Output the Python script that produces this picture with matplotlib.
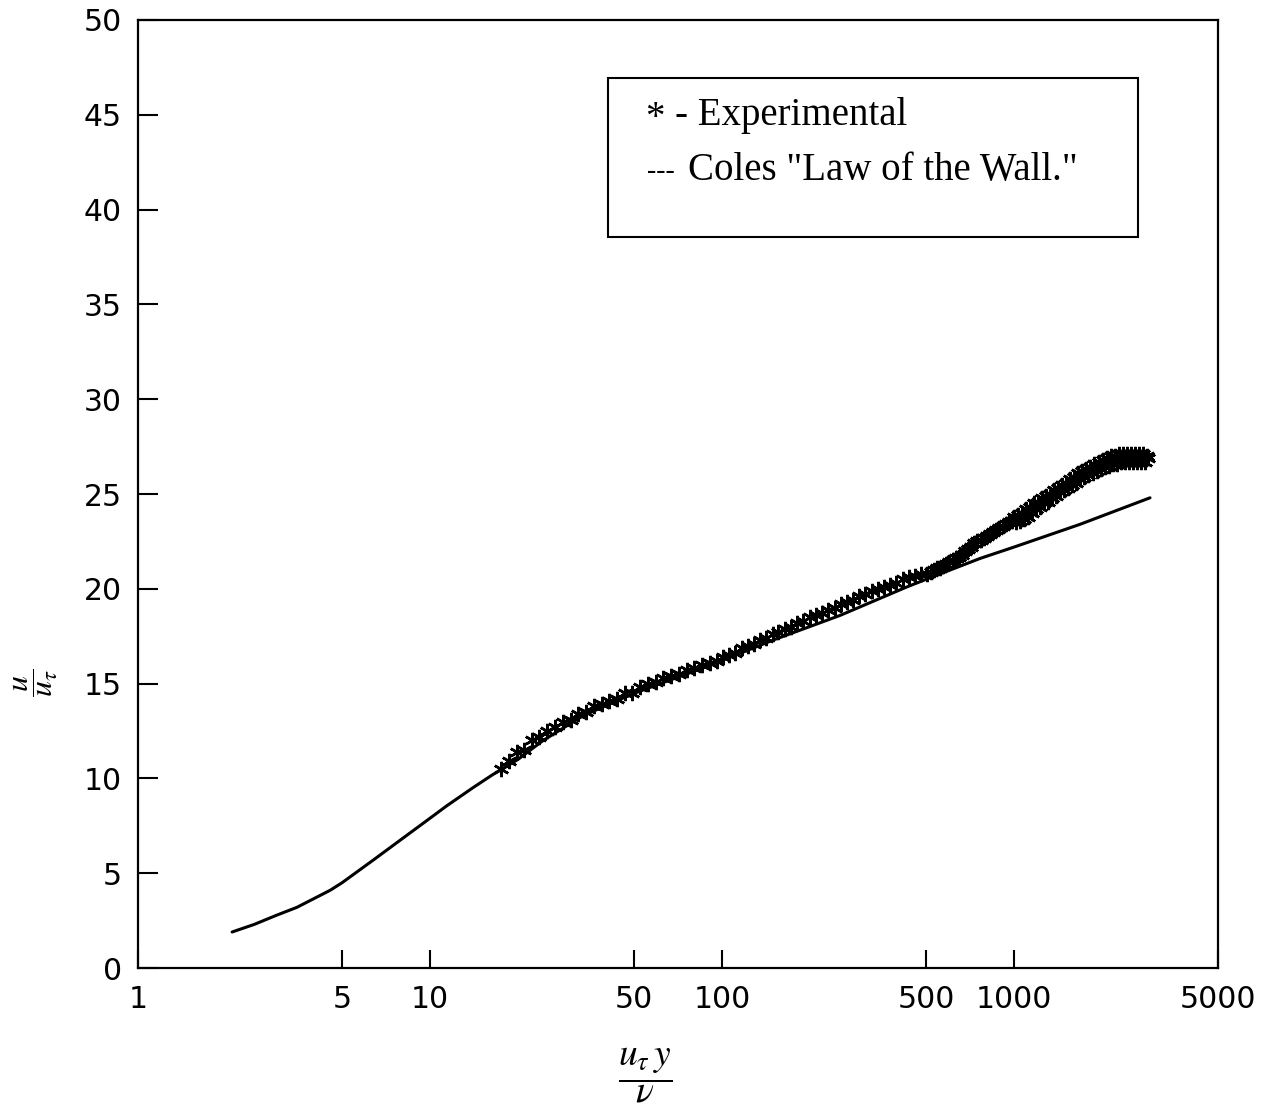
import numpy as np
import matplotlib.pyplot as plt
from matplotlib.patches import Rectangle

plt.rcParams['mathtext.fontset'] = 'stix'

# Coles "law of the wall" curve
wall_x = [2.1, 2.5, 3.0, 3.5, 4.55, 5.0, 6.4, 8.5, 10.0, 11.4, 14.0, 16.4, 20.0,
          24.4, 33.4, 48.4, 56.7, 88.8, 150, 254, 430, 500, 765, 1000, 1683, 2924]
wall_y = [1.9, 2.3, 2.8, 3.2, 4.1, 4.5, 5.7, 7.1, 7.9, 8.55, 9.5, 10.2, 11.0,
          12.0, 13.3, 14.4, 14.8, 15.9, 17.3, 18.6, 20.1, 20.5, 21.6, 22.2, 23.4, 24.8]

# experimental profile, u_tau*y/nu and u/u_tau
exp_x = [17.5, 18.6, 19.8, 21.0, 22.3, 23.7, 25.2, 26.8, 28.5, 30.3, 32.2, 34.2,
         36.4, 38.7, 41.1, 43.7, 46.4, 49.3, 52.4, 55.7, 59.2, 62.9, 66.9, 71.1,
         75.6, 80.3, 85.4, 90.7, 96.4,
         101, 106, 111, 117, 123, 129, 135, 142, 149, 156, 164, 172, 181, 190,
         200, 210, 220, 231, 243, 255, 268, 281, 295, 310, 326, 342, 359, 377,
         396, 416, 437, 459, 482,
         505, 518, 531, 544, 558, 572, 586, 601, 616, 631, 647, 663, 680, 697,
         714, 732, 750, 769, 788, 808, 828, 849, 870, 892, 914, 937, 960, 984,
         1000, 1016, 1032, 1049, 1066, 1083, 1100, 1118, 1136, 1154, 1172, 1191,
         1210, 1229, 1249, 1269, 1289, 1310, 1331, 1352, 1374, 1396, 1418, 1441,
         1464, 1487, 1511, 1535, 1560, 1585, 1610, 1636, 1662, 1689, 1716, 1743,
         1771, 1800, 1828, 1858, 1887, 1918, 1948, 1979, 2011, 2043, 2076, 2109,
         2143, 2177, 2212, 2248, 2284, 2320, 2357, 2395, 2433, 2472, 2512, 2552,
         2593, 2635, 2677, 2720, 2763, 2808, 2853, 2880]
exp_y = [10.5, 10.9, 11.4, 11.5, 12.0, 12.2, 12.5, 12.7, 13.0, 13.1, 13.4, 13.5,
         13.8, 13.9, 14.1, 14.2, 14.5, 14.5, 14.8, 15.0, 15.1, 15.3, 15.4, 15.5,
         15.7, 15.8, 16.0, 16.1, 16.2,
         16.4, 16.5, 16.6, 16.9, 17.0, 17.1, 17.3, 17.4, 17.6, 17.7, 17.9, 18.0,
         18.2, 18.3, 18.5, 18.6, 18.7, 18.9, 19.0, 19.2, 19.3, 19.4, 19.6, 19.7,
         19.9, 20.0, 20.1, 20.2, 20.3, 20.5, 20.6, 20.7, 20.8,
         20.8, 20.9, 21.0, 21.1, 21.1, 21.2, 21.3, 21.4, 21.5, 21.6, 21.7, 21.8,
         22.0, 22.1, 22.2, 22.4, 22.5, 22.6, 22.7, 22.8, 22.9, 23.0, 23.1, 23.2,
         23.3, 23.4, 23.5, 23.6,
         23.8, 23.5, 23.9, 23.6, 24.0, 23.7, 24.2, 23.8, 24.3, 24.0, 24.5, 24.2,
         24.6, 24.3, 24.8, 24.5, 24.9, 24.6, 25.0, 24.8, 25.2, 24.9, 25.3, 25.1,
         25.5, 25.2, 25.6, 25.3, 25.8, 25.5, 25.9, 25.6, 26.1, 25.8, 26.2, 25.9,
         26.3, 26.0, 26.4, 26.1, 26.6, 26.2, 26.7, 26.3, 26.8, 26.4, 26.9, 26.5,
         27.0, 26.6, 27.0, 26.6, 27.1, 26.7, 27.1, 26.7, 27.1, 26.7, 27.1, 26.7,
         27.1, 26.7, 27.1, 26.7, 27.1, 26.7, 27.0, 26.9]

x_ticks = [1, 5, 10, 50, 100, 500, 1000, 5000]
y_ticks = [0, 5, 10, 15, 20, 25, 30, 35, 40, 45, 50]

fig = plt.figure(figsize=(12.63, 11.11), dpi=100)
ax = fig.add_axes([0.1093, 0.1287, 0.8551, 0.8533])

ax.plot(wall_x, wall_y, color='black', lw=2.2, solid_capstyle='round')
ax.plot(exp_x, exp_y, ls='none', marker=(6, 2, 0), ms=11, mew=1.8,
        color='black')

ax.set_xscale('log')
ax.set_xlim(1, 5000)
ax.set_ylim(0, 50)
ax.set_xticks(x_ticks)
ax.set_xticklabels([str(t) for t in x_ticks])
ax.xaxis.set_minor_locator(plt.NullLocator())
ax.set_yticks(y_ticks)
ax.set_yticklabels([str(t) for t in y_ticks])
ax.tick_params(axis='x', direction='in', length=13, width=1.5, pad=12,
               labelsize=21.5)
ax.tick_params(axis='y', direction='in', length=14.5, width=1.5, pad=11.5,
               labelsize=21.5)
for s in ax.spines.values():
    s.set_linewidth(1.6)

# legend box drawn by hand
ax.add_patch(Rectangle((0.435, 0.771), 0.491, 0.168, transform=ax.transAxes,
                       fill=False, lw=1.5, color='black'))
serif = 'Liberation Serif'
kw = dict(fontsize=28, family=serif, va='baseline')
fig.text(645 / 1263, 1 - 128 / 1111, '*', **kw)
fig.text(675 / 1263, 1 - 125 / 1111, '- Experimental', **kw)
fig.text(647 / 1263, 1 - 178 / 1111, '---', fontsize=20, family=serif,
         va='baseline')
fig.text(688 / 1263, 1 - 180 / 1111, 'Coles "Law of the Wall."', **kw)

fig.text(645 / 1263, 1 - 1075 / 1111, r'$\dfrac{u_{\tau}\,y}{\nu}$',
         fontsize=27, ha='center', va='center')
fig.text(36 / 1263, 1 - 683 / 1111, r'$\dfrac{u}{u_{\tau}}$', fontsize=23,
         ha='center', va='center', rotation=90)

fig.savefig('out.png', dpi=100, facecolor='white')
